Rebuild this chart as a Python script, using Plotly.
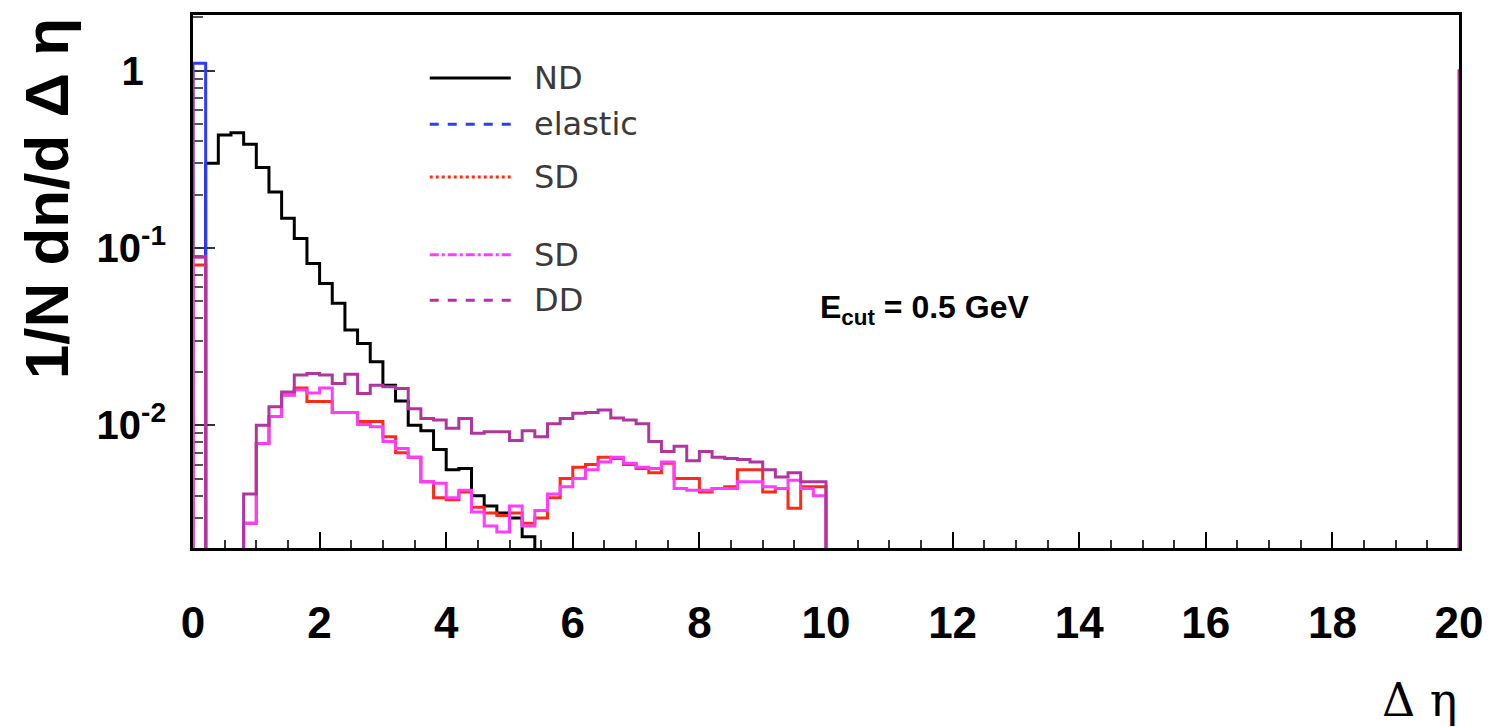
import numpy as np
import plotly.graph_objects as go

# ---------------- data (1/N dn/dDeta per bin of width 0.2, bins from 0 to 10) ----------------
bin_width = 0.2
x_min, x_max = 0.0, 20.0

nd = [0, 0.30, 0.433, 0.446, 0.385, 0.284, 0.207, 0.147, 0.113, 0.0818,
      0.063, 0.0487, 0.0344, 0.0289, 0.0228, 0.0168, 0.0137, 0.0100, 0.0093, 0.0073,
      0.0056, 0.0057, 0.0040, 0.0035, 0.0032, 0.0030, 0.00235, 0, 0, 0,
      0, 0, 0, 0, 0, 0, 0, 0, 0, 0,
      0, 0, 0, 0, 0, 0, 0, 0, 0, 0]

elastic = [1.10] + [0] * 49

sd_red = [0.080, 0, 0, 0, 0.0028, 0.0079, 0.0112, 0.0148, 0.0162, 0.0136,
          0.0136, 0.0118, 0.0118, 0.0105, 0.0105, 0.0086, 0.0070, 0.0066, 0.0048, 0.0039,
          0.0038, 0.0042, 0.00345, 0.0032, 0.0031, 0.0032, 0.0028, 0.0030, 0.0039, 0.0050,
          0.0058, 0.0060, 0.0066, 0.0065, 0.0060, 0.0057, 0.0054, 0.0061, 0.0050, 0.0050,
          0.0042, 0.0044, 0.0045, 0.0056, 0.0056, 0.0042, 0.0044, 0.0034, 0.0045, 0.0045]

sd_mag = [0.089, 0, 0, 0, 0.0028, 0.0079, 0.0112, 0.0148, 0.0158, 0.0152,
          0.0162, 0.0118, 0.0118, 0.0101, 0.0098, 0.0081, 0.0074, 0.0066, 0.0048, 0.0047,
          0.0039, 0.0043, 0.00324, 0.0027, 0.0025, 0.0035, 0.0027, 0.0033, 0.0041, 0.0045,
          0.0050, 0.0056, 0.0062, 0.0066, 0.0061, 0.0058, 0.0057, 0.0062, 0.0044, 0.0043,
          0.0043, 0.0044, 0.0044, 0.0048, 0.0048, 0.0045, 0.0044, 0.0049, 0.0044, 0.0040]

dd = [0.089, 0, 0, 0, 0.0041, 0.0100, 0.0127, 0.0154, 0.0192, 0.0196,
      0.0192, 0.0172, 0.0194, 0.0151, 0.0168, 0.0165, 0.0161, 0.0124, 0.0109, 0.0107,
      0.0096, 0.0109, 0.0090, 0.0092, 0.0092, 0.0082, 0.0093, 0.0086, 0.0102, 0.0109,
      0.0117, 0.0118, 0.0122, 0.0110, 0.0107, 0.0102, 0.0081, 0.0071, 0.0076, 0.0063,
      0.0071, 0.0066, 0.0065, 0.0064, 0.0062, 0.0056, 0.0051, 0.0054, 0.0048, 0.0048]
dd_underflow = 1.0   # bin just below 0
dd_overflow = 1.0    # bin just above 20

legend_names = ["ND", "elastic", "SD", "SD", "DD"]
colors = ["#000000", "#2a3cff", "#ff2a1a", "#ff3cff", "#b0369e"]
legend_dash = ["solid", "dash", "dot", "dashdot", "dash"]

y_tickvals = [0.01, 0.1, 1]
y_ticktext = ["10<sup>-2</sup>", "10<sup>-1</sup>", "1\u2007"]
x_tickvals = [0, 2, 4, 6, 8, 10, 12, 14, 16, 18, 20]

FLOOR = 1e-7
n_bins = int(round((x_max - x_min) / bin_width))
edges = np.round(np.linspace(x_min, x_max, n_bins + 1), 6)


def pad(vals):
    return list(vals) + [0] * (n_bins - len(vals))


def step(edge_arr, vals):
    v = [x if x > 0 else FLOOR for x in vals]
    xs = [edge_arr[0]] + list(edge_arr)
    ys = [FLOOR] + v + [FLOOR]
    return xs, ys


fig = go.Figure()

series = [pad(nd), pad(elastic), pad(sd_red), pad(sd_mag)]
for vals, col, name in zip(series, colors[:4], legend_names[:4]):
    xs, ys = step(edges, vals)
    fig.add_trace(go.Scatter(x=xs, y=ys, mode="lines", line=dict(color=col, width=3, shape="hv"),
                             name=name, showlegend=False, hoverinfo="skip"))

dd_edges = np.concatenate([[x_min - bin_width], edges, [x_max + bin_width]])
dd_vals = [dd_underflow] + pad(dd) + [dd_overflow]
xs, ys = step(dd_edges, dd_vals)
fig.add_trace(go.Scatter(x=xs, y=ys, mode="lines", line=dict(color=colors[4], width=3, shape="hv"),
                         name="DD", showlegend=False, hoverinfo="skip"))

# ---------------- manual legend ----------------
leg_y = [0.882, 0.795, 0.696, 0.550, 0.465]
for name, col, dash, yy in zip(legend_names, colors, legend_dash, leg_y):
    fig.add_shape(type="line", xref="x domain", yref="y domain", x0=0.187, x1=0.251, y0=yy, y1=yy,
                  line=dict(color=col, width=3, dash=dash))
    fig.add_annotation(xref="x domain", yref="y domain", x=0.268, y=yy, text=name, showarrow=False,
                       xanchor="left", yanchor="middle",
                       font=dict(family="DejaVu Sans", size=32, color="#3a3a3a"))

fig.add_annotation(xref="x domain", yref="y domain", x=0.494, y=0.447,
                   text="E<sub>cut</sub> = 0.5 GeV", showarrow=False, xanchor="left", yanchor="middle",
                   font=dict(family="Liberation Sans", size=32, color="black", weight="bold"))

fig.add_annotation(xref="paper", yref="paper", x=-0.116, y=0.997, text="1/N dn/d Δ η",
                   textangle=-90, showarrow=False, xanchor="center", yanchor="top",
                   font=dict(family="Liberation Sans", size=62, color="black", weight="bold"))

fig.add_annotation(xref="paper", yref="paper", x=1.0, y=-0.285, text="Δ η",
                   showarrow=False, xanchor="right", yanchor="middle",
                   font=dict(family="DejaVu Serif", size=46, color="black"))

fig.update_layout(
    width=1495, height=727,
    margin=dict(l=193, r=30, t=15, b=179),
    paper_bgcolor="white", plot_bgcolor="white",
    showlegend=False,
)

fig.update_xaxes(
    range=[x_min, x_max], tickvals=x_tickvals, ticks="inside", ticklen=16, tickwidth=2, tickcolor="black",
    minor=dict(dtick=0.5, ticks="inside", ticklen=8, tickwidth=2, tickcolor="#333333", showgrid=False),
    showline=True, linecolor="black", linewidth=3, mirror=True, showgrid=False, zeroline=False,
    tickfont=dict(family="Liberation Sans", size=44, color="black", weight="bold"),
    ticklabelstandoff=34, layer="below traces",
)

fig.update_yaxes(
    type="log", range=[np.log10(0.00203), np.log10(2.06)],
    tickvals=y_tickvals, ticktext=y_ticktext, ticks="inside", ticklen=22, tickwidth=2, tickcolor="#333333",
    minor=dict(ticks="inside", ticklen=10, tickwidth=2, tickcolor="#555555", showgrid=False, dtick="D1"),
    showline=True, linecolor="black", linewidth=3, mirror=True, showgrid=False, zeroline=False,
    tickfont=dict(family="Liberation Sans", size=40, color="black", weight="bold"),
    ticklabelstandoff=16, layer="below traces",
)

fig.write_html("out.html")
